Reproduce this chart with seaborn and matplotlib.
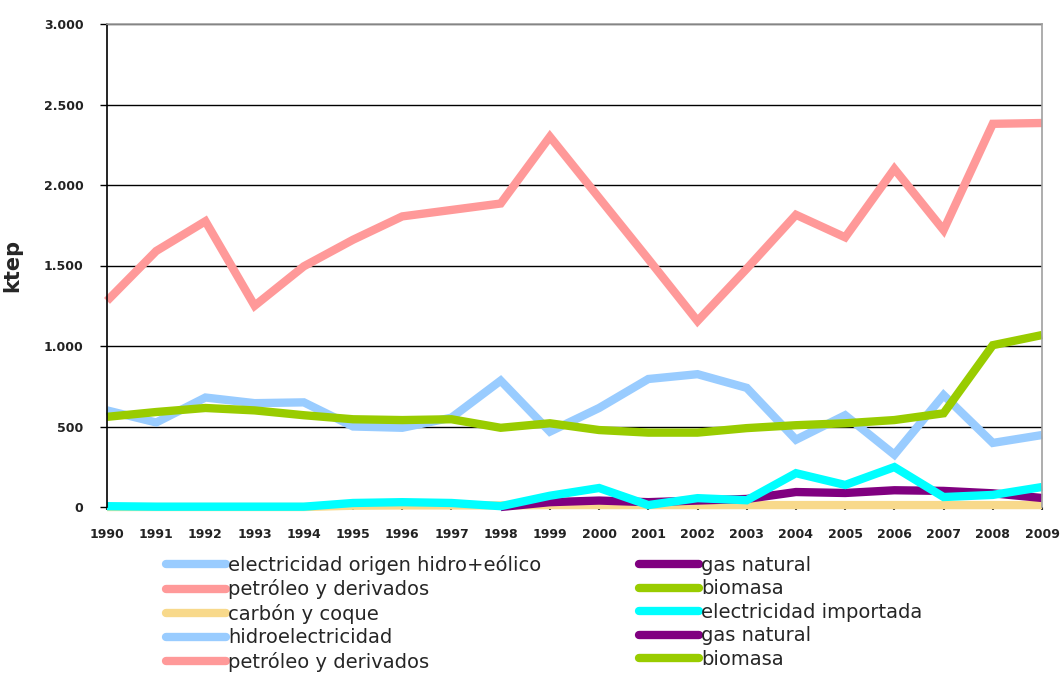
import numpy as np
import pandas as pd
import matplotlib
matplotlib.use("Agg")
import matplotlib.pyplot as plt
from matplotlib.lines import Line2D
import seaborn as sns

years = list(range(1990, 2010))
petroleo = [1280, 1590, 1775, 1250, 1495, 1660, 1805, 1845, 1885, 2300, 1920, 1540, 1155, 1480, 1815, 1675, 2100, 1720, 2380, 2385]
hidro = [600, 525, 680, 645, 650, 500, 492, 555, 785, 468, 615, 795, 825, 740, 418, 570, 325, 695, 398, 447]
biomasa = [560, 590, 615, 600, 570, 545, 540, 545, 492, 520, 478, 462, 462, 490, 508, 520, 540, 582, 1005, 1068]
importada = [5, 2, 2, 2, 2, 25, 30, 25, 5, 70, 118, 12, 55, 42, 210, 137, 248, 62, 75, 124]
gas = [None, None, None, None, None, None, None, None, 0, 30, 40, 30, 40, 50, 93, 87, 104, 100, 85, 56]
carbon = [0, 0, 0, 0, 0, 8, 10, 10, 10, 12, 12, 12, 12, 12, 12, 12, 12, 12, 12, 12]

legend_labels = ["electricidad origen hidro+eólico", "petróleo y derivados", "carbón y coque",
                 "hidroelectricidad", "petróleo y derivados", "gas natural", "biomasa",
                 "electricidad importada", "gas natural", "biomasa"]
ytick_labels = ["0", "500", "1.000", "1.500", "2.000", "2.500", "3.000"]

C_BLUE = "#99CCFF"
C_PINK = "#FF9999"
C_YEL = "#F8D98B"
C_PURP = "#800080"
C_GREEN = "#99CC00"
C_CYAN = "#00FFFF"
legend_colors = [C_BLUE, C_PINK, C_YEL, C_BLUE, C_PINK, C_PURP, C_GREEN, C_CYAN, C_PURP, C_GREEN]

sns.set_style("white")
plt.rcParams['font.family'] = ['DejaVu Sans']

fig = plt.figure(figsize=(10.61, 6.75), dpi=100)
ax = fig.add_axes([107/1061, 1-507/675, (1042-107)/1061, (507-24)/675])

lw = 6
series = [(hidro, C_BLUE), (petroleo, C_PINK), (carbon, C_YEL), (gas, C_PURP),
          (biomasa, C_GREEN), (importada, C_CYAN)]
for vals, col in series:
    df = pd.DataFrame({"year": years, "v": pd.array(vals, dtype="Float64")}).dropna()
    df["v"] = df["v"].astype(float)
    sns.lineplot(data=df, x="year", y="v", ax=ax, color=col, linewidth=lw,
                 solid_capstyle="butt", solid_joinstyle="miter", clip_on=False, legend=False)

ax.set_xlim(1990, 2009)
ax.set_ylim(0, 3000)
ax.set_yticks(range(0, 3001, 500))
ax.set_yticklabels(ytick_labels, fontsize=9, fontweight="bold", color="#222222")
ax.set_xticks(years)
ax.set_xticklabels([str(y) for y in years], fontsize=9, fontweight="bold", color="#222222")
ax.tick_params(axis="y", direction="out", length=5, width=1, pad=12, color="black", left=True)
ax.tick_params(axis="x", direction="out", length=2, width=1.5, pad=13, color="#333333", bottom=True)
ax.yaxis.grid(True, color="black", linewidth=1)
ax.xaxis.grid(False)
ax.set_axisbelow(True)
for s in ["top", "right"]:
    ax.spines[s].set_color("#A0A0A0")
    ax.spines[s].set_linewidth(1.2)
ax.spines["left"].set_color("black")
ax.spines["left"].set_linewidth(1.2)
ax.spines["bottom"].set_visible(False)
ax.set_xlabel("")
ax.set_ylabel("ktep", fontsize=15, fontweight="bold")
ax.yaxis.set_label_coords(-85/935, 0.5)

handles = [Line2D([0], [0], color=c, linewidth=lw, solid_capstyle="round") for c in legend_colors]
fig.legend(handles, legend_labels, loc="upper left", bbox_to_anchor=(166/1061, 1-555/675),
           ncol=2, frameon=False, fontsize=14, handlelength=3.1, handletextpad=0.1,
           columnspacing=5.0, labelspacing=0.23, borderaxespad=0, borderpad=0)

fig.savefig("out.png", dpi=100)
